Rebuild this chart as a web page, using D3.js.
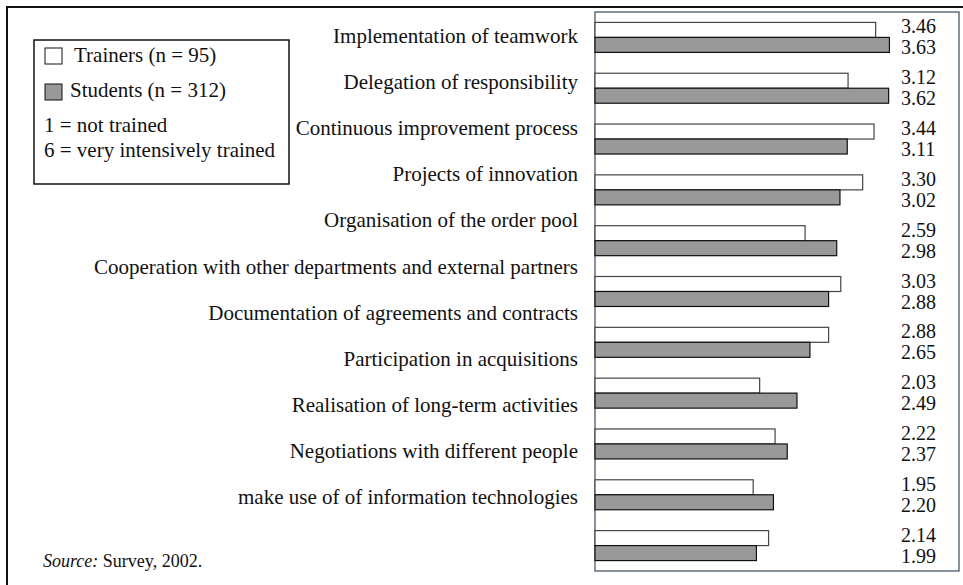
<!DOCTYPE html>
<html>
<head>
<meta charset="utf-8">
<script src="https://cdn.jsdelivr.net/npm/d3@7"></script>
<style>
  body { margin: 0; background: #fff; }
  text { font-family: "Liberation Serif", "Times New Roman", serif; fill: #111; }
</style>
</head>
<body>
<svg width="963" height="585"></svg>
<script>
const svg = d3.select("svg");

// Data
const activities = [
  "Implementation of teamwork",
  "Delegation of responsibility",
  "Continuous improvement process",
  "Projects of innovation",
  "Organisation of the order pool",
  "Cooperation with other departments and external partners",
  "Documentation of agreements and contracts",
  "Participation in acquisitions",
  "Realisation of long-term activities",
  "Negotiations with different people",
  "make use of of information technologies"
];
const series = ["Trainers", "Students"];
const trainers = [3.46, 3.12, 3.44, 3.30, 2.59, 3.03, 2.88, 2.03, 2.22, 1.95, 2.14];
const students = [3.63, 3.62, 3.11, 3.02, 2.98, 2.88, 2.65, 2.49, 2.37, 2.20, 1.99];
const legendLabels = ["Trainers (n = 95)", "Students (n = 312)"];
const scaleNotes = ["1 = not trained", "6 = very intensively trained"];

const fills = { Trainers: "#ffffff", Students: "#999999" };
const strokes = { Trainers: "#444", Students: "#111" };

// outer frame (runs off the bottom/right of the picture)
svg.append("rect")
  .attr("x", 7).attr("y", 7)
  .attr("width", 1000).attr("height", 700)
  .attr("fill", "none").attr("stroke", "#111").attr("stroke-width", 2);

// Scales
const plot = { left: 595, top: 12, right: 959, bottom: 571 };

const x = d3.scaleLinear().domain([0, 4.5]).range([plot.left, plot.left + 365]);

const y = d3.scaleBand()
  .domain(d3.range(activities.length))
  .range([plot.top, plot.bottom])
  .paddingInner(0.41)
  .paddingOuter(0.205);

const ySub = d3.scaleBand().domain(series).range([0, y.bandwidth()]);

// label positions (the labels drift from the bars in the original)
const yLabel = d3.scalePoint().domain(activities).range([43, 504]);

// plot frame
svg.append("rect")
  .attr("x", plot.left).attr("y", plot.top)
  .attr("width", plot.right - plot.left).attr("height", plot.bottom - plot.top)
  .attr("fill", "none").attr("stroke", "#3a4a5c").attr("stroke-width", 1.2);

const rows = activities.map((a, i) => ({ i, Trainers: trainers[i], Students: students[i] }));

const g = svg.append("g");
const pair = g.selectAll("g.pair")
  .data(rows)
  .join("g")
  .attr("class", "pair")
  .attr("transform", d => `translate(0,${y(d.i)})`);

pair.selectAll("rect")
  .data(d => series.map(s => ({ s, v: d[s] })))
  .join("rect")
  .attr("x", x(0))
  .attr("y", d => ySub(d.s))
  .attr("width", d => x(d.v) - x(0))
  .attr("height", ySub.bandwidth())
  .attr("fill", d => fills[d.s])
  .attr("stroke", d => strokes[d.s])
  .attr("stroke-width", 1.2);

// value labels
pair.selectAll("text")
  .data(d => series.map((s, k) => ({ s, v: d[s], k })))
  .join("text")
  .attr("x", 901)
  .attr("y", d => (d.k === 0 ? 11 : 32))
  .attr("font-size", 20)
  .text(d => d.v.toFixed(2));

// category labels
svg.append("g")
  .selectAll("text")
  .data(activities)
  .join("text")
  .attr("x", 578)
  .attr("y", d => yLabel(d))
  .attr("text-anchor", "end")
  .attr("font-size", 21)
  .text(d => d);

// legend
const legend = svg.append("g");
legend.append("rect")
  .attr("x", 34).attr("y", 40)
  .attr("width", 255).attr("height", 144)
  .attr("fill", "#fff").attr("stroke", "#111").attr("stroke-width", 1.5);

legend.selectAll("rect.key")
  .data(series)
  .join("rect")
  .attr("class", "key")
  .attr("x", 45)
  .attr("y", (d, i) => 48 + i * 36)
  .attr("width", 17).attr("height", 16)
  .attr("fill", d => fills[d])
  .attr("stroke", "#111").attr("stroke-width", 1);

legend.selectAll("text.key")
  .data(legendLabels)
  .join("text")
  .attr("class", "key")
  .attr("x", (d, i) => (i === 0 ? 74 : 70))
  .attr("y", (d, i) => 62 + i * 35)
  .attr("font-size", 21)
  .text(d => d);

legend.selectAll("text.note")
  .data(scaleNotes)
  .join("text")
  .attr("class", "note")
  .attr("x", 44)
  .attr("y", (d, i) => 132 + i * 25)
  .attr("font-size", 21)
  .text(d => d);

// source
const src = svg.append("text").attr("x", 43).attr("y", 567).attr("font-size", 18);
src.append("tspan").attr("font-style", "italic").text("Source:");
src.append("tspan").text(" Survey, 2002.");
</script>
</body>
</html>
